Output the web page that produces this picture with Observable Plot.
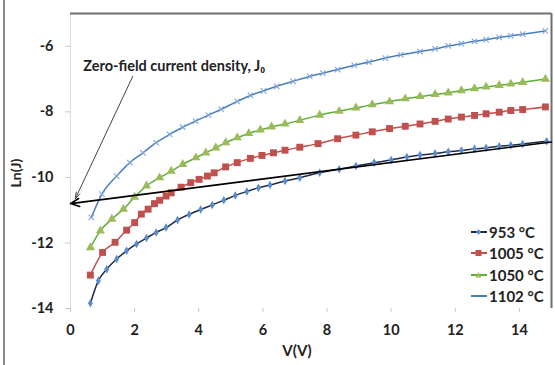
<!DOCTYPE html>
<html><head><meta charset="utf-8">
<script src="https://cdn.jsdelivr.net/npm/d3@7"></script>
<script src="https://cdn.jsdelivr.net/npm/@observablehq/plot@0.6"></script>
<style>
body{margin:0;background:#fff;}
#wrap{position:relative;width:555px;height:365px;font-family:Lato,"Open Sans",sans-serif;font-weight:bold;color:#222;}
#lborder{position:absolute;left:3px;top:0;width:2px;height:365px;background:#8a8a8a;}
#legend{position:absolute;left:470px;top:221px;font-size:15px;}
#legend .row{height:21.5px;display:flex;align-items:center;white-space:nowrap;}
#legend svg{margin-right:1px;}
#ylab{position:absolute;left:15px;top:173px;transform:translate(-50%,-50%) rotate(-90deg);font-size:14px;white-space:nowrap;}
#xlab{position:absolute;left:297px;top:350px;transform:translate(-50%,-50%);font-size:15px;white-space:nowrap;}
</style></head><body><div id="wrap"></div>
<script>
// ---- data ----
const seriesNames = ["953 °C", "1005 °C", "1050 °C", "1102 °C"];
const v953 = [0.62,0.87,1.13,1.44,1.75,2.06,2.37,2.67,2.98,3.34,3.7,4.06,4.42,4.78,5.14,5.5,5.86,6.22,6.69,7.15,7.77,8.38,8.9,9.47,10.0,10.49,10.9,11.37,11.78,12.19,12.6,12.96,13.37,13.73,14.1,14.85];
const lnj953 = [-13.84,-13.15,-12.8,-12.49,-12.24,-12.03,-11.85,-11.68,-11.53,-11.3,-11.13,-10.98,-10.84,-10.7,-10.55,-10.43,-10.32,-10.23,-10.11,-10.01,-9.86,-9.75,-9.65,-9.55,-9.47,-9.38,-9.32,-9.27,-9.22,-9.18,-9.13,-9.1,-9.05,-9.02,-8.98,-8.9];
const v1005 = [0.62,1.0,1.39,1.75,2.0,2.21,2.42,2.62,2.78,2.98,3.14,3.45,3.75,4.01,4.27,4.48,4.84,5.2,5.61,5.97,6.33,6.69,7.15,7.72,8.33,8.9,9.41,9.95,10.44,10.9,11.37,11.78,12.19,12.6,12.96,13.37,13.73,14.1,14.81];
const lnj1005 = [-12.98,-12.29,-11.98,-11.61,-11.38,-11.12,-10.97,-10.8,-10.7,-10.57,-10.47,-10.3,-10.16,-10.06,-9.96,-9.86,-9.68,-9.55,-9.42,-9.33,-9.25,-9.17,-9.08,-8.97,-8.82,-8.71,-8.61,-8.51,-8.44,-8.37,-8.29,-8.22,-8.16,-8.11,-8.06,-8.01,-7.96,-7.93,-7.85];
const v1050 = [0.62,0.93,1.29,1.65,2.0,2.37,2.78,3.14,3.5,3.91,4.22,4.53,4.84,5.2,5.56,5.92,6.27,6.69,7.15,7.77,8.38,8.9,9.41,9.95,10.44,10.9,11.37,11.78,12.19,12.6,12.96,13.37,13.73,14.1,14.81];
const lnj1050 = [-12.14,-11.63,-11.27,-10.97,-10.6,-10.26,-10.01,-9.81,-9.6,-9.4,-9.25,-9.1,-8.94,-8.79,-8.66,-8.55,-8.46,-8.37,-8.26,-8.1,-7.98,-7.88,-7.78,-7.69,-7.6,-7.53,-7.47,-7.42,-7.35,-7.29,-7.24,-7.19,-7.15,-7.1,-7.0];
const v1102 = [0.65,0.98,1.44,1.85,2.26,2.67,3.09,3.5,3.9,4.3,4.7,5.2,5.61,6.02,6.43,6.94,7.46,7.87,8.33,8.85,9.31,9.82,10.3,10.9,11.37,11.78,12.19,12.6,12.96,13.37,13.73,14.1,14.81];
const lnj1102 = [-11.22,-10.51,-9.96,-9.55,-9.25,-8.94,-8.69,-8.47,-8.28,-8.1,-7.92,-7.68,-7.5,-7.36,-7.22,-7.07,-6.92,-6.82,-6.71,-6.58,-6.48,-6.36,-6.26,-6.16,-6.08,-5.99,-5.92,-5.85,-5.8,-5.73,-5.68,-5.63,-5.53];
const xTicks = [0,2,4,6,8,10,12,14];
const yTicks = [-14,-12,-10,-8,-6];
const xDomain = [0,15];
const yDomain = [-14,-5];
// extrapolation line (fit to 953 °C, arrow to V = 0)
const fitV = [15, 0];
const fitLnJ = [-8.92, -10.8];
// annotation
const annText = ["Zero-field current density, J\u2080"];
const annV = [0.4];
const annLnJ = [-6.6];
const leaderV = [1.94, 0.15];
const leaderLnJ = [-6.92, -10.65];

// ---- styles ----
const lineColors = ["#1d2b45","#c0504d","#5cae3c","#4a7ebb"];
const markFill = ["#5a8ad0","#c0504d","#9bbb59","#7fa6dc"];
const symbols = ["diamond","square","triangle","times"];
const radii = [2.6,3.9,3.4,2.6];

const vs = [v953,v1005,v1050,v1102];
const ls = [lnj953,lnj1005,lnj1050,lnj1102];
const tables = vs.map((v,i)=>v.map((x,k)=>({v:x, lnj:ls[i][k]})));
const fmt = d => String(d); // plain hyphen-minus as in the original

const marks = [
  Plot.ruleX([xDomain[0]], {stroke:"#dcdcdc"}),
  Plot.ruleY([yDomain[1]], {stroke:"#6e6e6e", strokeWidth:2}),
  Plot.ruleX([xDomain[1]], {stroke:"#6e6e6e", strokeWidth:2}),
  Plot.axisX({ticks:xTicks, tickFormat:fmt, tickSize:4, tickPadding:12, stroke:"#c8c8c8", fill:"#222", fontSize:14.5, label:null}),
  Plot.axisY({ticks:yTicks, tickFormat:fmt, tickSize:5, tickPadding:12, stroke:"#c8c8c8", fill:"#222", fontSize:14.5, label:null}),
];
tables.forEach((t,i)=>{
  marks.push(Plot.line(t, {x:"v", y:"lnj", stroke:lineColors[i], strokeWidth:1.5, curve:"monotone-x"}));
});
tables.forEach((t,i)=>{
  const s = symbols[i];
  if (s === "times") {
    marks.push(Plot.dot(t, {x:"v", y:"lnj", symbol:s, r:radii[i], stroke:markFill[i], strokeWidth:1.1}));
  } else {
    marks.push(Plot.dot(t, {x:"v", y:"lnj", symbol:s, r:radii[i], fill:markFill[i], stroke:"none"}));
  }
});
marks.push(Plot.arrow([0], {x1:()=>fitV[0], y1:()=>fitLnJ[0], x2:()=>fitV[1], y2:()=>fitLnJ[1], stroke:"#000", strokeWidth:1.6, headLength:9, headAngle:50}));
marks.push(Plot.arrow([0], {x1:()=>leaderV[0], y1:()=>leaderLnJ[0], x2:()=>leaderV[1], y2:()=>leaderLnJ[1], stroke:"#444", strokeWidth:1, headLength:10, headAngle:35}));
marks.push(Plot.text(annText, {x:annV, y:annLnJ, text:d=>d, textAnchor:"start", fontSize:14.5, fill:"#222"}));

const chart = Plot.plot({
  width:555, height:365,
  marginLeft:70, marginRight:4, marginTop:13, marginBottom:57,
  style:{fontFamily:'Lato, "Open Sans", sans-serif', fontWeight:"bold", background:"#fff", overflow:"visible"},
  x:{domain:xDomain},
  y:{domain:yDomain},
  marks
});

const wrap = document.getElementById("wrap");
wrap.appendChild(chart);
const lb = document.createElement("div"); lb.id="lborder"; wrap.appendChild(lb);
const yl = document.createElement("div"); yl.id="ylab"; yl.textContent="Ln(J)"; wrap.appendChild(yl);
const xl = document.createElement("div"); xl.id="xlab"; xl.textContent="V(V)"; wrap.appendChild(xl);

// legend
const legend = document.createElement("div"); legend.id="legend";
const sym = {
  diamond:(c)=>`<path d="M8.5,2.3L11,5L8.5,7.7L6,5Z" fill="${c}"/>`,
  square:(c)=>`<rect x="5.5" y="2" width="6" height="6" fill="${c}"/>`,
  triangle:(c)=>`<path d="M8.5,2L11.5,7.5L5.5,7.5Z" fill="${c}"/>`,
  times:(c)=>``
};
seriesNames.forEach((n,i)=>{
  const row = document.createElement("div"); row.className="row";
  row.innerHTML = `<svg width="18" height="10"><line x1="1" y1="5" x2="17" y2="5" stroke="${lineColors[i]}" stroke-width="2"/>${sym[symbols[i]](markFill[i])}</svg><span>${n}</span>`;
  legend.appendChild(row);
});
wrap.appendChild(legend);
</script></body></html>
